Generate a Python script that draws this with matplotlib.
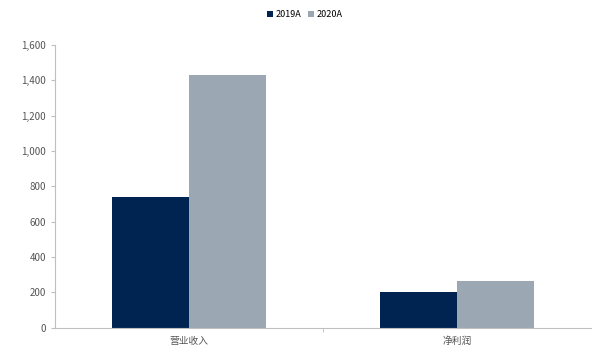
import matplotlib.pyplot as plt
import numpy as np

plt.rcParams['font.family'] = ['Noto Sans CJK SC', 'DejaVu Sans']

categories = ['营业收入', '净利润']
series_names = ['2019A', '2020A']
values_2019 = [740, 205]
values_2020 = [1430, 265]
colors = ['#002452', '#9ba8b3']

fig = plt.figure(figsize=(5.92, 3.51), dpi=100)
ax = fig.add_axes([0.093, 0.066, 0.905, 0.806])

x = np.arange(len(categories))
w = 0.287
ax.bar(x - w / 2, values_2019, width=w, color=colors[0], label=series_names[0])
ax.bar(x + w / 2, values_2020, width=w, color=colors[1], label=series_names[1])

ax.set_xlim(-0.5, 1.5)
ax.set_ylim(0, 1600)
ax.set_yticks(np.arange(0, 1601, 200))
ax.set_yticklabels([f'{v:,}' for v in range(0, 1601, 200)])
ax.set_xticks(x)
ax.set_xticklabels(categories)
ax.set_xticks([0.5], minor=True)

for s in ['top', 'right']:
    ax.spines[s].set_visible(False)
for s in ['left', 'bottom']:
    ax.spines[s].set_color('#bfbfbf')
    ax.spines[s].set_linewidth(0.8)
ax.tick_params(axis='y', colors='#bfbfbf', labelcolor='#555555', labelsize=7, length=3)
ax.tick_params(axis='x', which='major', length=0, labelcolor='#555555', labelsize=7, pad=6)
ax.tick_params(axis='x', which='minor', length=3, color='#bfbfbf')

ax.legend(loc='center', bbox_to_anchor=(0.466, 1.106), ncol=2, frameon=False,
          fontsize=6.5, handlelength=0.6, handleheight=0.6, handletextpad=0.3, columnspacing=0.8)

fig.savefig('out.png', dpi=100)
